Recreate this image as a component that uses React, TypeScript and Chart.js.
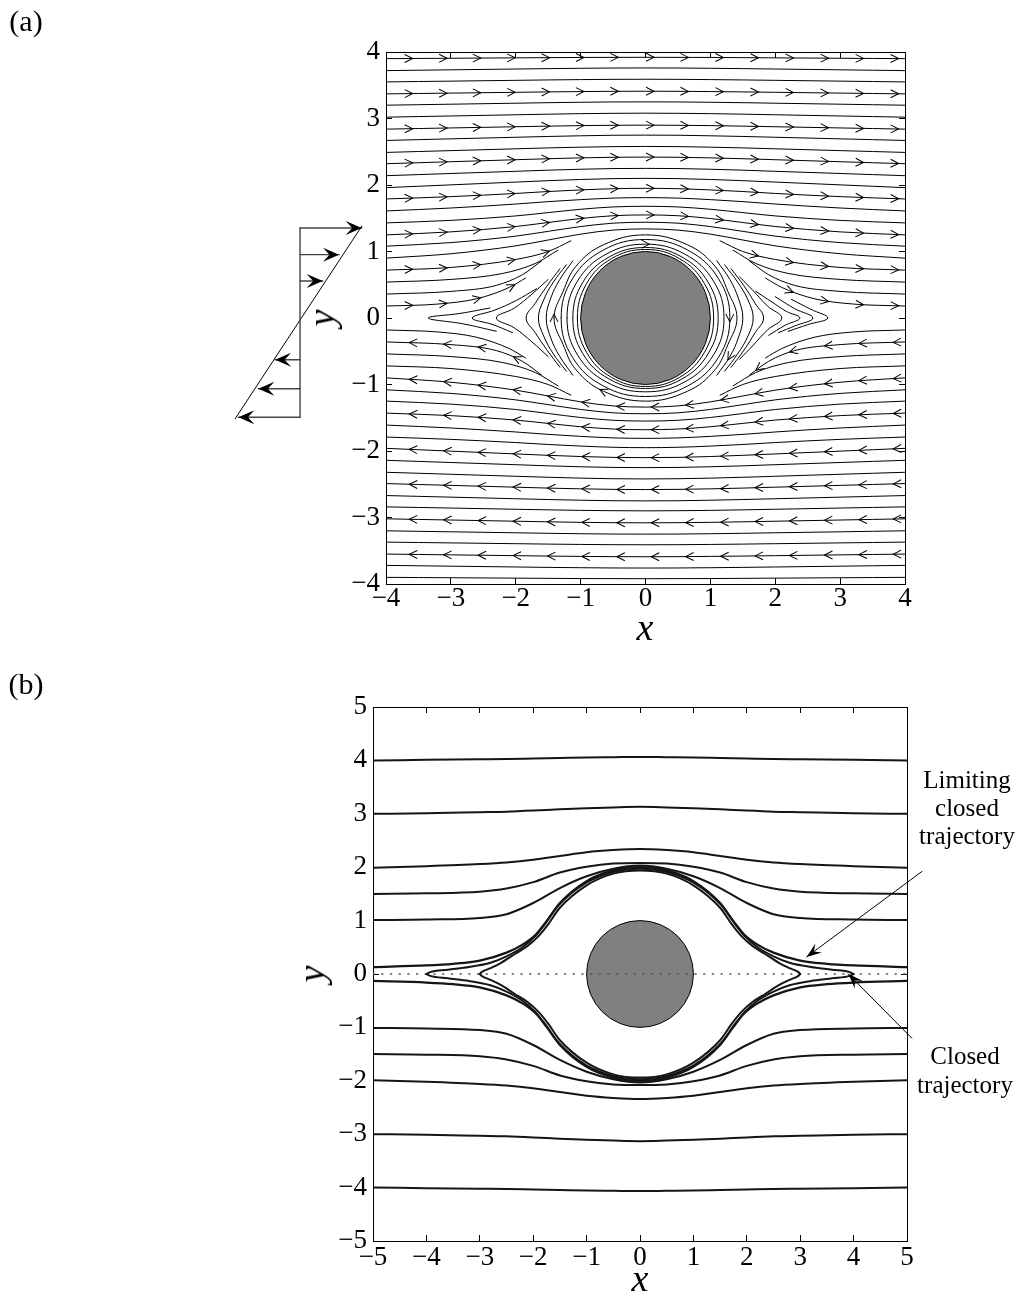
import React, { useEffect, useRef } from 'react';
import { Chart, registerables } from 'chart.js';

Chart.register(...registerables);

const SERIF = '"Liberation Serif", "Times New Roman", "DejaVu Serif", serif';

// ================= Panel (a) data =================
const A_X_RANGE = [-4, 4];
const A_Y_RANGE = [-4, 4];
const A_CYL = [0, 0, 1]; // centre x, centre y, radius
const A_STATIONS = [-4, -3, -2, -1.5, -1, -0.5, 0, 0.5, 1, 1.5, 2, 3, 4];

// open streamlines above the axis (flow to the right)
const A_UPPER_ROWS = [
  [3.900, 3.906, 3.912, 3.915, 3.918, 3.919, 3.920, 3.919, 3.918, 3.915, 3.912, 3.906, 3.900],
  [3.720, 3.732, 3.744, 3.750, 3.755, 3.759, 3.760, 3.759, 3.755, 3.750, 3.744, 3.732, 3.720],
  [3.550, 3.562, 3.574, 3.580, 3.585, 3.589, 3.590, 3.589, 3.585, 3.580, 3.574, 3.562, 3.550],
  [3.370, 3.382, 3.394, 3.400, 3.405, 3.409, 3.410, 3.409, 3.405, 3.400, 3.394, 3.382, 3.370],
  [3.200, 3.215, 3.230, 3.238, 3.244, 3.249, 3.250, 3.249, 3.244, 3.238, 3.230, 3.215, 3.200],
  [3.020, 3.038, 3.056, 3.065, 3.073, 3.078, 3.080, 3.078, 3.073, 3.065, 3.056, 3.038, 3.020],
  [2.840, 2.858, 2.876, 2.885, 2.893, 2.898, 2.900, 2.898, 2.893, 2.885, 2.876, 2.858, 2.840],
  [2.670, 2.694, 2.718, 2.730, 2.740, 2.748, 2.750, 2.748, 2.740, 2.730, 2.718, 2.694, 2.670],
  [2.490, 2.517, 2.544, 2.558, 2.569, 2.577, 2.580, 2.577, 2.569, 2.558, 2.544, 2.517, 2.490],
  [2.320, 2.350, 2.380, 2.395, 2.408, 2.417, 2.420, 2.417, 2.408, 2.395, 2.380, 2.350, 2.320],
  [2.140, 2.173, 2.206, 2.223, 2.237, 2.247, 2.250, 2.247, 2.237, 2.223, 2.206, 2.173, 2.140],
  [1.960, 2.002, 2.044, 2.065, 2.083, 2.096, 2.100, 2.096, 2.083, 2.065, 2.044, 2.002, 1.960],
  [1.790, 1.825, 1.873, 1.902, 1.926, 1.944, 1.950, 1.944, 1.926, 1.902, 1.873, 1.825, 1.790],
  [1.610, 1.654, 1.714, 1.750, 1.780, 1.803, 1.810, 1.803, 1.780, 1.750, 1.714, 1.654, 1.610],
  [1.430, 1.468, 1.535, 1.585, 1.635, 1.670, 1.680, 1.670, 1.635, 1.585, 1.535, 1.468, 1.430],
  [1.250, 1.295, 1.376, 1.436, 1.496, 1.538, 1.550, 1.538, 1.496, 1.436, 1.376, 1.295, 1.250],
  [1.080, 1.134, 1.231, 1.303, 1.375, 1.426, 1.440, 1.426, 1.375, 1.303, 1.231, 1.134, 1.080],
  [0.900, 0.966, 1.085, 1.173, 1.261, 1.322, 1.340, 1.322, 1.261, 1.173, 1.085, 0.966, 0.900],
];
// open streamlines below the axis (flow to the left)
const A_LOWER_ROWS = [
  [-3.900, -3.906, -3.912, -3.915, -3.918, -3.919, -3.920, -3.919, -3.918, -3.915, -3.912, -3.906, -3.900],
  [-3.720, -3.732, -3.744, -3.750, -3.755, -3.759, -3.760, -3.759, -3.755, -3.750, -3.744, -3.732, -3.720],
  [-3.550, -3.562, -3.574, -3.580, -3.585, -3.589, -3.590, -3.589, -3.585, -3.580, -3.574, -3.562, -3.550],
  [-3.370, -3.382, -3.394, -3.400, -3.405, -3.409, -3.410, -3.409, -3.405, -3.400, -3.394, -3.382, -3.370],
  [-3.200, -3.215, -3.230, -3.238, -3.244, -3.249, -3.250, -3.249, -3.244, -3.238, -3.230, -3.215, -3.200],
  [-3.020, -3.038, -3.056, -3.065, -3.073, -3.078, -3.080, -3.078, -3.073, -3.065, -3.056, -3.038, -3.020],
  [-2.840, -2.858, -2.876, -2.885, -2.893, -2.898, -2.900, -2.898, -2.893, -2.885, -2.876, -2.858, -2.840],
  [-2.670, -2.694, -2.718, -2.730, -2.740, -2.748, -2.750, -2.748, -2.740, -2.730, -2.718, -2.694, -2.670],
  [-2.490, -2.517, -2.544, -2.558, -2.569, -2.577, -2.580, -2.577, -2.569, -2.558, -2.544, -2.517, -2.490],
  [-2.320, -2.350, -2.380, -2.395, -2.408, -2.417, -2.420, -2.417, -2.408, -2.395, -2.380, -2.350, -2.320],
  [-2.140, -2.173, -2.206, -2.223, -2.237, -2.247, -2.250, -2.247, -2.237, -2.223, -2.206, -2.173, -2.140],
  [-1.960, -2.002, -2.044, -2.065, -2.083, -2.096, -2.100, -2.096, -2.083, -2.065, -2.044, -2.002, -1.960],
  [-1.790, -1.825, -1.873, -1.902, -1.926, -1.944, -1.950, -1.944, -1.926, -1.902, -1.873, -1.825, -1.790],
  [-1.610, -1.654, -1.714, -1.750, -1.780, -1.803, -1.810, -1.803, -1.780, -1.750, -1.714, -1.654, -1.610],
  [-1.430, -1.468, -1.535, -1.585, -1.635, -1.670, -1.680, -1.670, -1.635, -1.585, -1.535, -1.468, -1.430],
  [-1.250, -1.295, -1.376, -1.436, -1.496, -1.538, -1.550, -1.538, -1.496, -1.436, -1.376, -1.295, -1.250],
  [-1.080, -1.134, -1.231, -1.303, -1.375, -1.426, -1.440, -1.426, -1.375, -1.303, -1.231, -1.134, -1.080],
  [-0.900, -0.966, -1.085, -1.173, -1.261, -1.322, -1.340, -1.322, -1.261, -1.173, -1.085, -0.966, -0.900],
];
const A_UPPER_ARROW_ROWS = [0, 3, 6, 9, 12, 15];
const A_LOWER_ARROW_ROWS = [2, 5, 8, 11, 14, 17];

// shorter streamline pieces near the axis
const A_SEG_UL_X = [[-4, -3, -2, -1.5, -1.15], [-4, -3, -2.2, -1.7, -1.35], [-4, -3, -2.3, -1.9, -1.6], [-4, -3.2, -2.6, -2.1, -1.85]];
const A_SEG_UL_Y = [[0.72, 0.76, 0.88, 1.00, 1.16], [0.54, 0.58, 0.67, 0.82, 1.02], [0.36, 0.40, 0.49, 0.65, 0.86], [0.18, 0.21, 0.29, 0.46, 0.60]];
const A_SEG_UR_X = [[1.15, 1.5, 2, 3, 4], [1.35, 1.7, 2.2, 3, 4], [1.6, 1.9, 2.3, 3, 4], [1.85, 2.1, 2.6, 3.2, 4]];
const A_SEG_UR_Y = [[1.16, 1.00, 0.88, 0.76, 0.72], [1.02, 0.82, 0.67, 0.58, 0.54], [0.86, 0.65, 0.49, 0.40, 0.36], [0.60, 0.46, 0.29, 0.21, 0.18]];
const A_SEG_LL_X = [[-4, -3, -2, -1.5, -1.15], [-4, -3, -2.2, -1.7, -1.35], [-4, -3, -2.3, -1.9, -1.6], [-4, -3.2, -2.6, -2.1, -1.85]];
const A_SEG_LL_Y = [[-0.72, -0.76, -0.88, -1.00, -1.16], [-0.54, -0.58, -0.67, -0.82, -1.02], [-0.36, -0.40, -0.49, -0.65, -0.86], [-0.18, -0.21, -0.29, -0.46, -0.60]];
const A_SEG_LR_X = [[1.15, 1.5, 2, 3, 4], [1.35, 1.7, 2.2, 3, 4], [1.6, 1.9, 2.3, 3, 4], [1.85, 2.1, 2.6, 3.2, 4]];
const A_SEG_LR_Y = [[-1.16, -1.00, -0.88, -0.76, -0.72], [-1.02, -0.82, -0.67, -0.58, -0.54], [-0.86, -0.65, -0.49, -0.40, -0.36], [-0.60, -0.46, -0.29, -0.21, -0.18]];
const A_SEG_UPPER_ARROWS = [0, 3];
const A_SEG_LOWER_ARROWS = [2];

// closed orbits around the cylinder (clockwise)
const A_ORB_X = [
  [-1.05, -0.909, -0.525, 0, 0.525, 0.909, 1.05, 0.909, 0.525, 0, -0.525, -0.909],
  [-1.12, -0.970, -0.56, 0, 0.56, 0.970, 1.12, 0.970, 0.56, 0, -0.56, -0.970],
  [-1.21, -1.048, -0.605, 0, 0.605, 1.048, 1.21, 1.048, 0.605, 0, -0.605, -1.048],
  [-1.30, -1.126, -0.65, 0, 0.65, 1.126, 1.30, 1.126, 0.65, 0, -0.65, -1.126],
  [-1.41, -1.27, -1.07, -0.65, 0, 0.65, 1.07, 1.27, 1.41, 1.27, 1.07, 0.65, 0, -0.65, -1.07, -1.27],
];
const A_ORB_Y = [
  [0, 0.515, 0.892, 1.03, 0.892, 0.515, 0, -0.515, -0.892, -1.03, -0.892, -0.515],
  [0, 0.53, 0.918, 1.06, 0.918, 0.53, 0, -0.53, -0.918, -1.06, -0.918, -0.53],
  [0, 0.555, 0.961, 1.11, 0.961, 0.555, 0, -0.555, -0.961, -1.11, -0.961, -0.555],
  [0, 0.59, 1.022, 1.18, 1.022, 0.59, 0, -0.59, -1.022, -1.18, -1.022, -0.59],
  [0, 0.40, 0.78, 1.10, 1.25, 1.10, 0.78, 0.40, 0, -0.40, -0.78, -1.10, -1.25, -1.10, -0.78, -0.40],
];
const A_ORB_ARROW_IDX = [[], [], [4], [7], [1, 14]];

// cusped pieces of closed orbits, left side (flow upward) and right side (flow downward)
const A_LARC_X = [
  [-1.12, -1.32, -1.46, -1.53, -1.46, -1.32, -1.12],
  [-1.22, -1.42, -1.57, -1.65, -1.57, -1.42, -1.22],
  [-1.32, -1.52, -1.70, -1.84, -1.70, -1.52, -1.32],
  [-1.50, -1.75, -2.02, -2.30, -2.02, -1.75, -1.50],
  [-2.05, -2.35, -2.67, -2.32, -2.00, -1.68],
  [-2.30, -2.80, -3.35, -2.85, -2.40],
];
const A_LARC_Y = [
  [-0.86, -0.58, -0.30, 0, 0.30, 0.58, 0.86],
  [-0.80, -0.54, -0.27, 0, 0.27, 0.54, 0.80],
  [-0.74, -0.48, -0.22, 0, 0.22, 0.48, 0.74],
  [-0.58, -0.36, -0.15, 0, 0.15, 0.36, 0.58],
  [-0.22, -0.10, 0, 0.12, 0.26, 0.44],
  [-0.20, -0.09, 0, 0.07, 0.15],
];
const A_RARC_X = [
  [1.10, 1.30, 1.43, 1.50, 1.43, 1.30, 1.10],
  [1.22, 1.42, 1.58, 1.66, 1.58, 1.42, 1.22],
  [1.32, 1.52, 1.69, 1.82, 1.69, 1.52, 1.32],
  [1.45, 1.65, 1.88, 2.10, 1.88, 1.65, 1.45],
  [1.70, 1.95, 2.17, 2.38, 2.15, 1.90],
  [2.00, 2.30, 2.58, 2.30, 2.05],
  [2.25, 2.55, 2.81, 2.50, 2.20],
];
const A_RARC_Y = [
  [0.86, 0.58, 0.30, 0, -0.30, -0.58, -0.86],
  [0.80, 0.54, 0.27, 0, -0.27, -0.54, -0.80],
  [0.74, 0.48, 0.22, 0, -0.22, -0.48, -0.74],
  [0.62, 0.42, 0.18, 0, -0.18, -0.42, -0.62],
  [0.40, 0.24, 0.10, 0, -0.11, -0.26],
  [0.32, 0.14, 0, -0.12, -0.22],
  [0.28, 0.13, 0, -0.10, -0.20],
];

const A_ARROW_X_RIGHT = [-3.65, -3.12, -2.60, -2.07, -1.54, -1.01, -0.48, 0.07, 0.60, 1.14, 1.68, 2.22, 2.76, 3.30, 3.84];
const A_ARROW_X_LEFT = [-3.58, -3.05, -2.52, -1.98, -1.45, -0.92, -0.38, 0.15, 0.68, 1.22, 1.75, 2.28, 2.82, 3.35, 3.88];

// shear-flow sketch left of panel (a)
const A_SHEAR_AXIS_X = [-5.325, -5.325];
const A_SHEAR_AXIS_Y = [1.354, -1.492];
const A_SHEAR_LINE_X = [-6.327, -4.374];
const A_SHEAR_LINE_Y = [-1.517, 1.380];
const A_SHEAR_ARROW_Y = [1.354, 0.953, 0.556, -0.628, -1.065, -1.492];
const A_SHEAR_ARROW_TIP = [-4.374, -4.724, -4.975, -5.710, -5.968, -6.276];

// ================= Panel (b) data =================
const B_X_RANGE = [-5, 5];
const B_Y_RANGE = [-5, 5];
const B_CYL = [0, 0, 1];
const B_STATIONS = [-5, -4, -3, -2.5, -2, -1.5, -1, -0.5, 0, 0.5, 1, 1.5, 2, 2.5, 3, 4, 5];
const B_UPPER_ROWS = [
  [4.00, 4.01, 4.02, 4.025, 4.035, 4.045, 4.055, 4.06, 4.065, 4.06, 4.055, 4.045, 4.035, 4.025, 4.02, 4.01, 4.00],
  [3.00, 3.01, 3.03, 3.04, 3.06, 3.085, 3.105, 3.12, 3.13, 3.12, 3.105, 3.085, 3.06, 3.04, 3.03, 3.01, 3.00],
  [1.99, 2.02, 2.06, 2.09, 2.14, 2.21, 2.28, 2.32, 2.34, 2.32, 2.28, 2.21, 2.14, 2.09, 2.06, 2.02, 1.99],
  [1.50, 1.51, 1.54, 1.60, 1.72, 1.90, 2.01, 2.07, 2.08, 2.07, 2.01, 1.90, 1.72, 1.60, 1.54, 1.51, 1.50],
  [1.01, 1.02, 1.05, 1.12, 1.33, 1.61, 1.83, 1.97, 2.03, 1.97, 1.83, 1.61, 1.33, 1.12, 1.05, 1.02, 1.01],
];
const B_LOWER_ROWS = [
  [-4.00, -4.01, -4.02, -4.025, -4.035, -4.045, -4.055, -4.06, -4.065, -4.06, -4.055, -4.045, -4.035, -4.025, -4.02, -4.01, -4.00],
  [-3.00, -3.01, -3.03, -3.04, -3.06, -3.085, -3.105, -3.12, -3.13, -3.12, -3.105, -3.085, -3.06, -3.04, -3.03, -3.01, -3.00],
  [-1.99, -2.02, -2.06, -2.09, -2.14, -2.21, -2.28, -2.32, -2.34, -2.32, -2.28, -2.21, -2.14, -2.09, -2.06, -2.02, -1.99],
  [-1.50, -1.51, -1.54, -1.60, -1.72, -1.90, -2.01, -2.07, -2.08, -2.07, -2.01, -1.90, -1.72, -1.60, -1.54, -1.51, -1.50],
  [-1.01, -1.02, -1.05, -1.12, -1.33, -1.61, -1.83, -1.97, -2.03, -1.97, -1.83, -1.61, -1.33, -1.12, -1.05, -1.02, -1.01],
];
// limiting closed trajectory (open, just outside the closed region)
const B_LIM_X = [-5, -4, -3.5, -3, -2.5, -2.2, -1.95, -1.75, -1.5, -1, -0.5, 0, 0.5, 1, 1.5, 1.75, 1.95, 2.2, 2.5, 3, 3.5, 4, 5];
const B_LIM_UY = [0.13, 0.16, 0.19, 0.25, 0.40, 0.55, 0.74, 0.99, 1.33, 1.74, 1.94, 2.00, 1.94, 1.74, 1.33, 0.99, 0.74, 0.55, 0.40, 0.25, 0.19, 0.16, 0.13];
const B_LIM_LY = [-0.13, -0.16, -0.19, -0.25, -0.40, -0.55, -0.74, -0.99, -1.33, -1.74, -1.94, -2.00, -1.94, -1.74, -1.33, -0.99, -0.74, -0.55, -0.40, -0.25, -0.19, -0.16, -0.13];
// closed trajectories (tips at x = +-4 and x = +-3)
const B_C4_X = [-4, -3.93, -3.6, -3.2, -2.8, -2.5, -2.2, -1.97, -1.77, -1.52, -1.02, -0.5, 0, 0.5, 1.02, 1.52, 1.77, 1.97, 2.2, 2.5, 2.8, 3.2, 3.6, 3.93, 4];
const B_C4_UY = [0, 0.035, 0.08, 0.13, 0.21, 0.33, 0.50, 0.70, 0.95, 1.29, 1.70, 1.91, 1.97, 1.91, 1.70, 1.29, 0.95, 0.70, 0.50, 0.33, 0.21, 0.13, 0.08, 0.035, 0];
const B_C4_LY = [0, -0.035, -0.08, -0.13, -0.21, -0.33, -0.50, -0.70, -0.95, -1.29, -1.70, -1.91, -1.97, -1.91, -1.70, -1.29, -0.95, -0.70, -0.50, -0.33, -0.21, -0.13, -0.08, -0.035, 0];
const B_C3_X = [-3, -2.96, -2.8, -2.6, -2.35, -2.1, -1.9, -1.72, -1.5, -1, -0.5, 0, 0.5, 1, 1.5, 1.72, 1.9, 2.1, 2.35, 2.6, 2.8, 2.96, 3];
const B_C3_UY = [0, 0.04, 0.11, 0.21, 0.37, 0.53, 0.71, 0.93, 1.24, 1.66, 1.88, 1.94, 1.88, 1.66, 1.24, 0.93, 0.71, 0.53, 0.37, 0.21, 0.11, 0.04, 0];
const B_C3_LY = [0, -0.04, -0.11, -0.21, -0.37, -0.53, -0.71, -0.93, -1.24, -1.66, -1.88, -1.94, -1.88, -1.66, -1.24, -0.93, -0.71, -0.53, -0.37, -0.21, -0.11, -0.04, 0];
const B_AXIS_LINE_X = [-5, 5];
const B_AXIS_LINE_Y = [0, 0];
// annotation arrows
const B_ANN_LIM_X = [5.28, 3.12];
const B_ANN_LIM_Y = [1.92, 0.32];
const B_ANN_CLOSED_X = [5.09, 3.90];
const B_ANN_CLOSED_Y = [-1.20, 0.00];

// ================= helpers =================
const tickFmt = (v: any) => {
  const n = Number(v);
  return n < 0 ? '\u2212' + Math.abs(n) : String(n);
};

function bez(p0: number, c1: number, c2: number, p3: number, t: number) {
  const u = 1 - t;
  return u * u * u * p0 + 3 * u * u * t * c1 + 3 * u * t * t * c2 + t * t * t * p3;
}
function bezd(p0: number, c1: number, c2: number, p3: number, t: number) {
  const u = 1 - t;
  return 3 * u * u * (c1 - p0) + 6 * u * t * (c2 - c1) + 3 * t * t * (p3 - c2);
}

function drawHead(ctx: CanvasRenderingContext2D, x: number, y: number, ang: number, a: any) {
  ctx.save();
  ctx.translate(x, y);
  ctx.rotate(ang);
  ctx.beginPath();
  if (a.kind === 'chevron') {
    const off = a.len / 2;
    ctx.moveTo(off - a.len, -a.half);
    ctx.lineTo(off, 0);
    ctx.lineTo(off - a.len, a.half);
    ctx.lineWidth = a.lw || 1;
    ctx.strokeStyle = a.color || '#000';
    ctx.lineJoin = 'miter';
    ctx.stroke();
  } else {
    ctx.moveTo(0, 0);
    ctx.lineTo(-a.len, -a.half);
    ctx.lineTo(-a.len * a.notch, 0);
    ctx.lineTo(-a.len, a.half);
    ctx.closePath();
    ctx.fillStyle = a.color || '#000';
    ctx.fill();
  }
  ctx.restore();
}

const decorPlugin = {
  id: 'decor',
  beforeDatasetsDraw(chart: any, _args: any, opts: any) {
    const c = opts && opts.circle;
    if (!c) return;
    const xs = chart.scales.x, ys = chart.scales.y, ctx = chart.ctx;
    const cx = xs.getPixelForValue(c.cx), cy = ys.getPixelForValue(c.cy);
    const rx = Math.abs(xs.getPixelForValue(c.cx + c.r) - cx);
    const ry = Math.abs(ys.getPixelForValue(c.cy + c.r) - cy);
    ctx.save();
    ctx.beginPath();
    ctx.ellipse(cx, cy, rx, ry, 0, 0, Math.PI * 2);
    ctx.fillStyle = c.fill;
    ctx.fill();
    ctx.lineWidth = c.lineWidth;
    ctx.strokeStyle = c.stroke;
    ctx.stroke();
    ctx.restore();
  },
  afterDatasetsDraw(chart: any) {
    const ctx = chart.ctx;
    const xs = chart.scales.x;
    chart.data.datasets.forEach((ds: any, di: number) => {
      const a = ds.arrows;
      if (!a) return;
      const pts: any[] = chart.getDatasetMeta(di).data;
      const heads: number[][] = [];
      if (a.atX) {
        for (const X of a.atX) {
          const px = xs.getPixelForValue(X);
          for (let i = 0; i < pts.length - 1; i++) {
            const p = pts[i], q = pts[i + 1];
            if (px < Math.min(p.x, q.x) || px > Math.max(p.x, q.x) || p.x === q.x) continue;
            const c1x = p.cp2x ?? p.x, c1y = p.cp2y ?? p.y, c2x = q.cp1x ?? q.x, c2y = q.cp1y ?? q.y;
            const inc = q.x > p.x;
            let lo = 0, hi = 1;
            for (let k = 0; k < 40; k++) {
              const m = (lo + hi) / 2;
              const bx = bez(p.x, c1x, c2x, q.x, m);
              if ((bx < px) === inc) lo = m; else hi = m;
            }
            const t = (lo + hi) / 2;
            const y = bez(p.y, c1y, c2y, q.y, t);
            let dx = bezd(p.x, c1x, c2x, q.x, t), dy = bezd(p.y, c1y, c2y, q.y, t);
            if (dx * a.dir < 0) { dx = -dx; dy = -dy; }
            heads.push([px, y, Math.atan2(dy, dx)]);
            break;
          }
        }
      }
      if (a.idx) {
        for (const i of a.idx) {
          const p = pts[i];
          if (!p) continue;
          let dx, dy;
          if (p.cp1x != null && p.cp2x != null && (p.cp2x !== p.cp1x || p.cp2y !== p.cp1y)) {
            dx = p.cp2x - p.cp1x; dy = p.cp2y - p.cp1y;
          } else {
            const A = pts[Math.max(0, i - 1)], B = pts[Math.min(pts.length - 1, i + 1)];
            dx = B.x - A.x; dy = B.y - A.y;
          }
          heads.push([p.x, p.y, Math.atan2(dy, dx)]);
        }
      }
      if (a.end) {
        const p = pts[pts.length - 1], o = pts[pts.length - 2];
        heads.push([p.x, p.y, Math.atan2(p.y - o.y, p.x - o.x)]);
      }
      heads.forEach((h) => drawHead(ctx, h[0], h[1], h[2], a));
    });
  },
};

function lineDs(xs: number[], ys: number[], o: any = {}) {
  const ds: any = {
    data: xs.map((x, i) => ({ x, y: ys[i] })),
    borderColor: o.color || '#000',
    borderWidth: o.width || 1,
    pointRadius: 0,
    pointHoverRadius: 0,
    fill: false,
    borderCapStyle: 'round',
    borderJoinStyle: 'round',
  };
  if (o.mono) ds.cubicInterpolationMode = 'monotone';
  if (o.tension) ds.tension = o.tension;
  if (o.clip === false) ds.clip = false;
  if (o.dash) ds.borderDash = o.dash;
  if (o.segment) ds.segment = o.segment;
  if (o.arrows) ds.arrows = o.arrows;
  return ds;
}

function axisOpts(axis: string, position: string, range: number[], showLabels: boolean, fit: number, pad: number) {
  return {
    type: 'linear',
    axis,
    position,
    min: range[0],
    max: range[1],
    ticks: {
      display: showLabels,
      stepSize: 1,
      autoSkip: false,
      maxRotation: 0,
      minRotation: 0,
      padding: pad,
      color: '#000',
      font: { family: SERIF, size: 27, lineHeight: 1.2 },
      callback: (v: any) => tickFmt(v),
    },
    grid: { display: true, drawOnChartArea: false, drawTicks: true, tickLength: -6, color: '#000', lineWidth: 1 },
    border: { display: true, color: '#000', width: 1 },
    afterFit: (s: any) => {
      if (s.isHorizontal()) {
        s.height = fit; s.paddingLeft = 0; s.paddingRight = 0;
      } else {
        s.width = fit; s.paddingTop = 0; s.paddingBottom = 0;
      }
    },
  };
}

function baseOptions(xr: number[], yr: number[], padding: any, yW: number, xH: number, xPad: number, yPad: number, cyl: number[]) {
  return {
    responsive: false,
    maintainAspectRatio: false,
    animation: false,
    events: [],
    layout: { padding },
    plugins: {
      legend: { display: false },
      tooltip: { enabled: false },
      decor: { circle: { cx: cyl[0], cy: cyl[1], r: cyl[2], fill: '#808080', stroke: '#000', lineWidth: 1 } },
    },
    scales: {
      x: axisOpts('x', 'bottom', xr, true, xH, xPad),
      y: axisOpts('y', 'left', yr, true, yW, yPad),
      x2: axisOpts('x', 'top', xr, false, 0, 0),
      y2: axisOpts('y', 'right', yr, false, 0, 0),
    },
  };
}

const CHEV = { kind: 'chevron', len: 8, half: 4, lw: 1, color: '#000' };

function closedPad(q: number[]) {
  return [q[q.length - 1], ...q, q[0], q[1]];
}

function buildA() {
  const ds: any[] = [];
  A_UPPER_ROWS.forEach((row, i) => {
    ds.push(lineDs(A_STATIONS, row, {
      mono: true,
      arrows: A_UPPER_ARROW_ROWS.includes(i) ? { ...CHEV, atX: A_ARROW_X_RIGHT, dir: 1 } : undefined,
    }));
  });
  A_LOWER_ROWS.forEach((row, i) => {
    ds.push(lineDs(A_STATIONS, row, {
      mono: true,
      arrows: A_LOWER_ARROW_ROWS.includes(i) ? { ...CHEV, atX: A_ARROW_X_LEFT, dir: -1 } : undefined,
    }));
  });
  const segSets: [number[][], number[][], number[], number[], number][] = [
    [A_SEG_UL_X, A_SEG_UL_Y, A_SEG_UPPER_ARROWS, A_ARROW_X_RIGHT, 1],
    [A_SEG_UR_X, A_SEG_UR_Y, A_SEG_UPPER_ARROWS, A_ARROW_X_RIGHT, 1],
    [A_SEG_LL_X, A_SEG_LL_Y, A_SEG_LOWER_ARROWS, A_ARROW_X_LEFT, -1],
    [A_SEG_LR_X, A_SEG_LR_Y, A_SEG_LOWER_ARROWS, A_ARROW_X_LEFT, -1],
  ];
  segSets.forEach(([X, Y, arr, ax, dir]) => {
    X.forEach((xs, i) => {
      ds.push(lineDs(xs, Y[i], { mono: true, arrows: arr.includes(i) ? { ...CHEV, atX: ax, dir } : undefined }));
    });
  });
  A_ORB_X.forEach((xs, i) => {
    const px = closedPad(xs), py = closedPad(A_ORB_Y[i]);
    const n = px.length;
    ds.push(lineDs(px, py, {
      tension: 0.4,
      segment: {
        borderColor: (c: any) => (c.p0DataIndex === 0 || c.p1DataIndex === n - 1 ? 'rgba(0,0,0,0)' : '#000'),
      },
      arrows: A_ORB_ARROW_IDX[i].length ? { ...CHEV, idx: A_ORB_ARROW_IDX[i] } : undefined,
    }));
  });
  A_LARC_X.forEach((xs, i) => ds.push(lineDs(xs, A_LARC_Y[i], { tension: 0.4 })));
  A_RARC_X.forEach((xs, i) => ds.push(lineDs(xs, A_RARC_Y[i], { tension: 0.4, arrows: i === 0 ? { ...CHEV, idx: [5] } : undefined })));
  // shear sketch
  ds.push(lineDs(A_SHEAR_AXIS_X, A_SHEAR_AXIS_Y, { clip: false, color: '#444', width: 1.4 }));
  ds.push(lineDs(A_SHEAR_LINE_X, A_SHEAR_LINE_Y, { clip: false, color: '#000', width: 1 }));
  A_SHEAR_ARROW_Y.forEach((y, i) => {
    ds.push(lineDs([A_SHEAR_AXIS_X[0], A_SHEAR_ARROW_TIP[i]], [y, y], {
      clip: false, color: '#444', width: 1.4,
      arrows: { kind: 'filled', end: true, len: 16, half: 7, notch: 0.6, color: '#000' },
    }));
  });
  return {
    type: 'line',
    data: { datasets: ds },
    options: baseOptions(A_X_RANGE, A_Y_RANGE, { left: 290, right: 116, top: 52, bottom: 0 }, 96, 76, 5, 12, A_CYL),
    plugins: [decorPlugin],
  };
}

function buildB() {
  const ds: any[] = [];
  const W = 2;
  const C = '#151515';
  B_UPPER_ROWS.forEach((row) => ds.push(lineDs(B_STATIONS, row, { mono: true, width: W, color: C })));
  B_LOWER_ROWS.forEach((row) => ds.push(lineDs(B_STATIONS, row, { mono: true, width: W, color: C })));
  ds.push(lineDs(B_LIM_X, B_LIM_UY, { mono: true, width: 2.2, color: C }));
  ds.push(lineDs(B_LIM_X, B_LIM_LY, { mono: true, width: 2.2, color: C }));
  ds.push(lineDs(B_C4_X, B_C4_UY, { mono: true, width: 2, color: C }));
  ds.push(lineDs(B_C4_X, B_C4_LY, { mono: true, width: 2, color: C }));
  ds.push(lineDs(B_C3_X, B_C3_UY, { mono: true, width: 2, color: C }));
  ds.push(lineDs(B_C3_X, B_C3_LY, { mono: true, width: 2, color: C }));
  ds.push(lineDs(B_AXIS_LINE_X, B_AXIS_LINE_Y, { width: 1.3, color: '#555', dash: [1.3, 7.4] }));
  ds.push(lineDs(B_ANN_LIM_X, B_ANN_LIM_Y, {
    clip: false, width: 1, color: '#000',
    arrows: { kind: 'filled', end: true, len: 15, half: 5.5, notch: 0.6, color: '#000' },
  }));
  ds.push(lineDs(B_ANN_CLOSED_X, B_ANN_CLOSED_Y, {
    clip: false, width: 1, color: '#000',
    arrows: { kind: 'filled', end: true, len: 15, half: 5.5, notch: 0.6, color: '#000' },
  }));
  return {
    type: 'line',
    data: { datasets: ds },
    options: baseOptions(B_X_RANGE, B_Y_RANGE, { left: 283, right: 114, top: 47, bottom: 0 }, 90, 60, 7, 12, B_CYL),
    plugins: [decorPlugin],
  };
}

function Txt(props: { x: number; y: number; size: number; italic?: boolean; rotate?: number; lh?: number; children: any }) {
  const { x, y, size, italic, rotate, lh, children } = props;
  return (
    <div
      style={{
        position: 'absolute',
        left: x,
        top: y,
        transform: `translate(-50%, -50%)${rotate ? ` rotate(${rotate}deg)` : ''}`,
        fontFamily: SERIF,
        fontSize: size,
        fontStyle: italic ? 'italic' : 'normal',
        lineHeight: lh ? `${lh}px` : 1,
        whiteSpace: 'nowrap',
        textAlign: 'center',
        color: '#000',
      }}
    >
      {children}
    </div>
  );
}

export default function App() {
  const refA = useRef<HTMLCanvasElement>(null);
  const refB = useRef<HTMLCanvasElement>(null);
  useEffect(() => {
    const ca = new Chart(refA.current as HTMLCanvasElement, buildA() as any);
    const cb = new Chart(refB.current as HTMLCanvasElement, buildB() as any);
    return () => {
      ca.destroy();
      cb.destroy();
    };
  }, []);
  return (
    <div style={{ position: 'absolute', left: 0, top: 0, width: 1021, height: 1301, background: '#fff', overflow: 'hidden' }}>
      <canvas ref={refA} width={1021} height={660} style={{ position: 'absolute', left: 0, top: 0, width: 1021, height: 660 }} />
      <canvas ref={refB} width={1021} height={641} style={{ position: 'absolute', left: 0, top: 660, width: 1021, height: 641 }} />
      <Txt x={26} y={21} size={30}>(a)</Txt>
      <Txt x={26} y={684} size={30}>(b)</Txt>
      <Txt x={645} y={627} size={38} italic>x</Txt>
      <Txt x={321} y={318} size={38} italic rotate={-90}>y</Txt>
      <Txt x={640} y={1278} size={38} italic>x</Txt>
      <Txt x={311} y={974} size={38} italic rotate={-90}>y</Txt>
      <Txt x={967} y={808} size={25} lh={28}>
        Limiting<br />closed<br />trajectory
      </Txt>
      <Txt x={965} y={1070} size={25} lh={29}>
        Closed<br />trajectory
      </Txt>
    </div>
  );
}
